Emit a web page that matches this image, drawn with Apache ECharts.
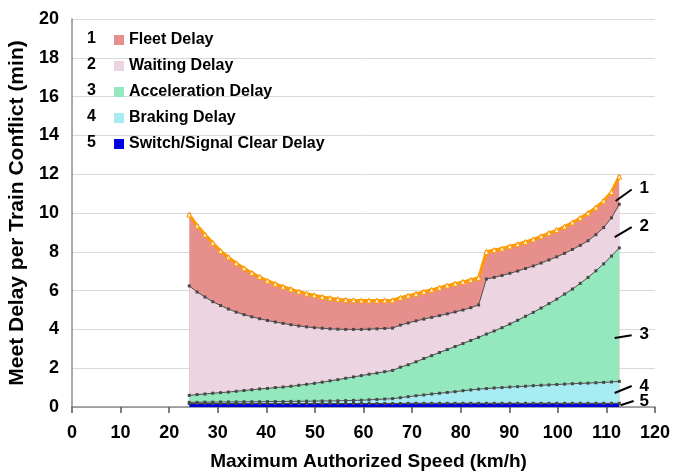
<!DOCTYPE html>
<html>
<head>
<meta charset="utf-8">
<script src="https://cdn.jsdelivr.net/npm/echarts@6/dist/echarts.min.js"></script>
<style>html,body{margin:0;padding:0;background:#fff}#c{width:673px;height:472px}</style>
</head>
<body>
<div id="c"></div>
<script>
// Speeds (km/h) — 15..70 mph steps
var speeds = [24.14,25.75,27.36,28.97,30.58,32.19,33.80,35.41,37.01,38.62,40.23,41.84,43.45,45.06,46.67,48.28,49.89,51.50,53.11,54.72,56.33,57.94,59.55,61.15,62.76,64.37,65.98,67.59,69.20,70.81,72.42,74.03,75.64,77.25,78.86,80.47,82.08,83.69,85.30,86.90,88.51,90.12,91.73,93.34,94.95,96.56,98.17,99.78,101.39,103.00,104.61,106.22,107.83,109.43,111.04,112.65];

// Cumulative delay (top of each band), min
var fleetTop = [9.92,9.35,8.89,8.46,8.04,7.72,7.41,7.15,6.91,6.70,6.51,6.35,6.20,6.07,5.95,5.84,5.76,5.67,5.61,5.56,5.52,5.50,5.49,5.49,5.49,5.49,5.50,5.63,5.74,5.83,5.94,6.04,6.15,6.26,6.36,6.45,6.55,6.66,8.00,8.09,8.17,8.28,8.39,8.51,8.64,8.80,8.96,9.12,9.30,9.51,9.74,9.99,10.28,10.63,11.08,11.88];
var waitingTop = [6.24,5.93,5.67,5.43,5.23,5.05,4.89,4.76,4.65,4.55,4.46,4.38,4.31,4.24,4.18,4.13,4.09,4.06,4.03,4.01,4.00,4.00,4.00,4.01,4.03,4.05,4.07,4.22,4.33,4.44,4.53,4.62,4.71,4.80,4.90,5.00,5.12,5.26,6.60,6.68,6.78,6.89,7.01,7.14,7.27,7.42,7.58,7.74,7.92,8.12,8.33,8.57,8.88,9.25,9.75,10.45];
var accelTop = [0.60,0.64,0.67,0.71,0.74,0.77,0.81,0.85,0.89,0.93,0.96,1.00,1.03,1.07,1.12,1.17,1.22,1.28,1.35,1.41,1.48,1.55,1.62,1.69,1.75,1.82,1.89,2.05,2.18,2.33,2.50,2.65,2.81,2.96,3.12,3.27,3.43,3.59,3.76,3.92,4.09,4.28,4.47,4.68,4.88,5.10,5.33,5.56,5.82,6.08,6.37,6.68,7.02,7.38,7.78,8.20];
var brakingTop = [0.24,0.24,0.25,0.25,0.26,0.26,0.26,0.27,0.27,0.27,0.28,0.28,0.28,0.29,0.29,0.30,0.30,0.31,0.31,0.32,0.33,0.34,0.35,0.37,0.39,0.41,0.43,0.48,0.53,0.58,0.62,0.67,0.71,0.75,0.79,0.84,0.88,0.92,0.95,0.98,1.00,1.03,1.05,1.07,1.10,1.12,1.14,1.16,1.18,1.20,1.22,1.23,1.25,1.27,1.29,1.32];
var switchTop = [0.18,0.18,0.18,0.18,0.18,0.18,0.18,0.18,0.18,0.18,0.18,0.18,0.18,0.18,0.18,0.18,0.18,0.18,0.18,0.18,0.18,0.18,0.18,0.18,0.18,0.18,0.18,0.18,0.19,0.19,0.19,0.19,0.19,0.19,0.19,0.19,0.19,0.19,0.19,0.19,0.19,0.19,0.19,0.19,0.19,0.19,0.19,0.19,0.19,0.19,0.19,0.19,0.19,0.19,0.19,0.19];

var seriesNames = ['Fleet Delay','Waiting Delay','Acceleration Delay','Braking Delay','Switch/Signal Clear Delay'];
var legendNums = ['1','2','3','4','5'];

var FONT = '"Liberation Sans", Arial, sans-serif';
var fills = ['#e68f8d','#ecd4e0','#94e8bd','#a7ebf3','#0000e0'];

function pairs(arr){ return speeds.map(function(s,i){ return [s, arr[i]]; }); }

function bandSeries(name, arr, fill, z){
  return {
    name: name, type: 'line', data: pairs(arr),
    symbol: 'rect', symbolSize: 3,
    itemStyle: {color: '#484848'},
    lineStyle: {color: '#505050', width: 1},
    areaStyle: {color: fill, opacity: 1},
    emphasis: {disabled: true}, z: z
  };
}

var chart = echarts.init(document.getElementById('c'), null, {renderer: 'canvas'});
var series = [
  bandSeries(seriesNames[0], fleetTop, fills[0], 2),
  bandSeries(seriesNames[1], waitingTop, fills[1], 3),
  bandSeries(seriesNames[2], accelTop, fills[2], 4),
  bandSeries(seriesNames[3], brakingTop, fills[3], 5),
  bandSeries(seriesNames[4], switchTop, fills[4], 6),
  {
    name: 'Fleet total', type: 'line', data: pairs(fleetTop),
    symbol: 'triangle', symbolSize: 5,
    itemStyle: {color: '#fff3d6', borderColor: '#ff9a00', borderWidth: 1},
    lineStyle: {color: '#ff9a00', width: 3}, z: 10, emphasis: {disabled: true}
  }
];
var option = {
  animation: false,
  backgroundColor: '#fff',
  grid: {left: 72, right: 18, top: 19, bottom: 65, containLabel: false, outerBoundsMode: 'none'},
  xAxis: {
    type: 'value', min: 0, max: 120, interval: 10,
    name: 'Maximum Authorized Speed (km/h)', nameLocation: 'middle', nameGap: 45,
    nameTextStyle: {fontFamily: FONT, fontWeight: 'bold', fontSize: 19, color: '#000', padding: [0, 0, 0, 10]},
    axisLine: {lineStyle: {color: '#8c8c8c', width: 1.5}},
    axisTick: {show: true, length: 6, lineStyle: {color: '#555', width: 1.5}},
    axisLabel: {fontFamily: FONT, fontWeight: 'bold', fontSize: 18, color: '#000', margin: 17},
    splitLine: {show: false}
  },
  yAxis: {
    type: 'value', min: 0, max: 20, interval: 2,
    name: 'Meet Delay per Train Conflict (min)', nameLocation: 'middle', nameGap: 43,
    nameTextStyle: {fontFamily: FONT, fontWeight: 'bold', fontSize: 21, color: '#000'},
    axisLine: {show: true, lineStyle: {color: '#8c8c8c', width: 1.5}},
    axisTick: {show: false},
    axisLabel: {fontFamily: FONT, fontWeight: 'bold', fontSize: 18, color: '#000', margin: 13},
    splitLine: {show: true, lineStyle: {color: '#d9d9d9', width: 1}}
  },
  legend: {
    orient: 'vertical', left: 109, top: 27, itemWidth: 10, itemHeight: 10, itemGap: 10,
    icon: 'rect',
    textStyle: {fontFamily: FONT, fontWeight: 'bold', fontSize: 16, color: '#000'},
    data: seriesNames.map(function(n,i){ return {name: n, icon: 'rect', itemStyle: {color: fills[i], borderWidth: 0}}; }),
    selectedMode: false
  },
  series: series
};
chart.setOption(option);

// Legend numbers and right-side annotations
var annotations = [
  {label: '1', from: [111.9, 10.62], to: [115.2, 11.21], at: [116.8, 11.28]},
  {label: '2', from: [111.7, 8.76], to: [115.2, 9.27], at: [116.8, 9.31]},
  {label: '3', from: [111.7, 3.56], to: [115.2, 3.70], at: [116.8, 3.73]},
  {label: '4', from: [111.7, 0.72], to: [115.2, 1.08], at: [116.8, 1.08]},
  {label: '5', from: [112.9, 0.09], to: [115.6, 0.31], at: [116.8, 0.31]}
];
var g = [];
legendNums.forEach(function(n, i){
  g.push({type: 'text', left: 87, top: 31 + i * 25.8,
    style: {text: n, font: 'bold 16px ' + FONT, fill: '#000'}});
});
annotations.forEach(function(a){
  var p1 = chart.convertToPixel({gridIndex: 0}, a.from);
  var p2 = chart.convertToPixel({gridIndex: 0}, a.to);
  var p3 = chart.convertToPixel({gridIndex: 0}, a.at);
  g.push({type: 'line', shape: {x1: p1[0], y1: p1[1], x2: p2[0], y2: p2[1]},
    style: {stroke: '#000', lineWidth: 2}, z: 20});
  g.push({type: 'text', x: p3[0], y: p3[1],
    style: {text: a.label, font: 'bold 17px ' + FONT, fill: '#000', textAlign: 'left', textVerticalAlign: 'middle'}, z: 20});
});
chart.setOption({graphic: g});
</script>
</body>
</html>
